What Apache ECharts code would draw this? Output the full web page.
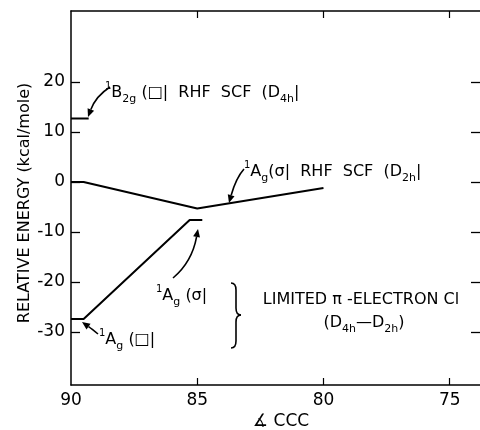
<!DOCTYPE html>
<html>
<head>
<meta charset="utf-8">
<script src="https://cdn.jsdelivr.net/npm/echarts@6/dist/echarts.min.js"></script>
<style>
html, body { margin: 0; padding: 0; background: #fff; }
#myChart { width: 480px; height: 430px; }
</style>
</head>
<body>
<div id="myChart"></div>
<script>
// x 轴 角度 CCC
const xTicks = [90, 85, 80, 75]
// y 轴 相对能量
const yTicks = [20, 10, 0, -10, -20, -30]
// 1B2g (□) RHF SCF (D4h)
const b2gAngle = [90, 89.3]
const b2gEnergy = [12.7, 12.7]
// 1Ag (σ) RHF SCF (D2h)
const scfAngle = [90, 89.5, 85, 80]
const scfEnergy = [0, 0, -5.3, -1.2]
// limited π-electron CI
const ciAngle = [90, 89.5, 85.3, 84.8]
const ciEnergy = [-27.4, -27.4, -7.6, -7.6]

const FONT = 'DejaVu Sans'
const ink = '#000'

function zip(xs, ys) {
  return xs.map(function(x, i) { return [x, ys[i]] })
}

function lineSeries(name, xs, ys) {
  return {
    name: name,
    type: 'line',
    showSymbol: false,
    symbol: 'none',
    lineStyle: { color: ink, width: 2 },
    data: zip(xs, ys)
  }
}

function label(x, y, text, size, align) {
  return {
    type: 'text',
    x: x,
    y: y,
    style: {
      text: text,
      fill: ink,
      fontSize: size,
      fontFamily: FONT,
      align: align || 'left',
      verticalAlign: 'middle',
      lineHeight: 24,
      rich: {
        sub: { fontSize: 11, fontFamily: FONT, verticalAlign: 'bottom', lineHeight: 13 },
        sup: { fontSize: 10, fontFamily: FONT, verticalAlign: 'top', lineHeight: 11 }
      }
    }
  }
}

function curve(x1, y1, cx, cy, x2, y2) {
  return {
    type: 'bezierCurve',
    shape: { x1: x1, y1: y1, cpx1: cx, cpy1: cy, x2: x2, y2: y2 },
    style: { stroke: ink, lineWidth: 1.6, fill: null }
  }
}

function seg(x1, y1, x2, y2) {
  return {
    type: 'line',
    shape: { x1: x1, y1: y1, x2: x2, y2: y2 },
    style: { stroke: ink, lineWidth: 1.6 }
  }
}

// 带箭头的曲线
function arrow(x1, y1, cx, cy, x2, y2) {
  const dx = x2 - cx
  const dy = y2 - cy
  const len = Math.sqrt(dx * dx + dy * dy)
  const ux = dx / len
  const uy = dy / len
  const hl = 8
  const hw = 3.5
  const bx = x2 - ux * hl
  const by = y2 - uy * hl
  return [
    curve(x1, y1, cx, cy, bx, by),
    {
      type: 'polygon',
      shape: { points: [[x2, y2], [bx - uy * hw, by + ux * hw], [bx + uy * hw, by - ux * hw]] },
      style: { fill: ink }
    }
  ]
}

// 花括号
function brace(x, top, mid, bottom) {
  return [
    curve(x - 5, top, x, top, x, top + 7),
    seg(x, top + 7, x, mid - 7),
    curve(x, mid - 7, x, mid, x + 5, mid),
    curve(x + 5, mid, x, mid, x, mid + 7),
    seg(x, mid + 7, x, bottom - 7),
    curve(x, bottom - 7, x, bottom, x - 5, bottom)
  ]
}

const xBase = {
  type: 'value',
  inverse: true,
  min: 73.8,
  max: 90,
  splitLine: { show: false },
  axisLine: { show: true, onZero: false, lineStyle: { color: ink, width: 1.5 } },
  axisTick: { show: true, inside: true, length: 7, customValues: [85, 80, 75], lineStyle: { color: ink, width: 1.2 } }
}

const yBase = {
  type: 'value',
  min: -40.6,
  max: 34.2,
  splitLine: { show: false },
  axisTick: { show: true, inside: true, length: 9, customValues: yTicks, lineStyle: { color: ink, width: 1.3 } }
}

const option = {
  animation: false,
  backgroundColor: '#fff',
  grid: { left: 71, right: -1, top: 11, bottom: 45 },
  xAxis: [
    Object.assign({}, xBase, {
      position: 'bottom',
      axisLabel: { customValues: xTicks, color: ink, fontSize: 17, fontFamily: FONT, margin: 7 }
    }),
    Object.assign({}, xBase, {
      position: 'top',
      axisLabel: { show: false }
    })
  ],
  yAxis: [
    Object.assign({}, yBase, {
      position: 'left',
      axisLine: { show: true, onZero: false, lineStyle: { color: ink, width: 1.5 } },
      axisLabel: { customValues: yTicks, color: ink, fontSize: 17, fontFamily: FONT, margin: 6 }
    }),
    Object.assign({}, yBase, {
      position: 'right',
      axisLine: { show: false, onZero: false },
      axisLabel: { show: false }
    })
  ],
  series: [
    lineSeries('1B2g RHF SCF', b2gAngle, b2gEnergy),
    lineSeries('1Ag RHF SCF', scfAngle, scfEnergy),
    lineSeries('CI', ciAngle, ciEnergy)
  ],
  graphic: [].concat(
    [
      label(105, 93, '{sup|1}B{sub|2g} (□|  RHF  SCF  (D{sub|4h}|', 16),
      label(244, 172, '{sup|1}A{sub|g}(σ|  RHF  SCF  (D{sub|2h}|', 16),
      label(156, 296, '{sup|1}A{sub|g} (σ|', 16),
      label(99, 340, '{sup|1}A{sub|g} (□|', 16),
      label(361, 300, 'LIMITED π -ELECTRON Cl', 16, 'center'),
      label(364, 323, '(D{sub|4h}—D{sub|2h})', 16, 'center'),
      label(281, 422, '∡ CCC', 17, 'center'),
      {
        type: 'text',
        x: 25,
        y: 203,
        rotation: Math.PI / 2,
        style: {
          text: 'RELATIVE ENERGY (kcal/mole)',
          fill: ink,
          fontSize: 16,
          fontFamily: FONT,
          align: 'center',
          verticalAlign: 'middle'
        }
      }
    ],
    brace(236, 283, 315, 348),
    arrow(110, 87, 96, 96, 88, 117),
    arrow(244, 169, 236, 178, 229, 203),
    arrow(173, 278, 192, 262, 198, 229),
    arrow(98, 334, 92, 329, 82, 322)
  )
}

const myChart = echarts.init(document.getElementById('myChart'))
myChart.setOption(option)
</script>
</body>
</html>
